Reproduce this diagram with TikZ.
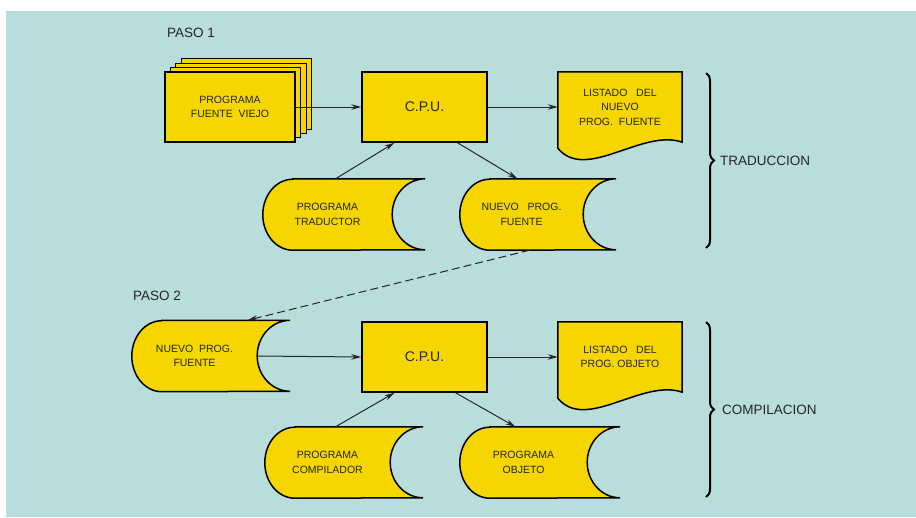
\documentclass[tikz,border=0pt]{standalone}
\usepackage{fontspec}
\setmainfont{Liberation Sans}
\usepackage{tikz}
\usetikzlibrary{arrows.meta, positioning, backgrounds, decorations.pathreplacing, calc}

\definecolor{fondo}{HTML}{B8DDDB}
\definecolor{amarillo}{HTML}{F5D600}
\definecolor{tinta}{HTML}{262626}

% outline of a storage (disc) symbol behind node #1
\newcommand{\disco}[1]{%
    \draw[shape_line] ([xshift=30pt]#1.north west) -- ([xshift=33pt]#1.north east)
        arc[start angle=90, end angle=270, x radius=33pt, y radius=35.5pt]
        -- ([xshift=30pt]#1.south west)
        arc[start angle=270, end angle=90, x radius=30pt, y radius=35.5pt] -- cycle;}
% outline of a printed listing behind node #1
\newcommand{\listado}[1]{%
    \draw[shape_line] (#1.north west) -- (#1.north east) -- (#1.south east)
        .. controls +(-40pt,14pt) and +(28pt,-34pt) .. ([yshift=-6pt]#1.south west) -- cycle;}

\begin{document}
\begin{tikzpicture}[x=1pt, y=-1pt,
            box_text/.style={align=center, text=tinta, font=\fontsize{10.5}{14.5}\selectfont},
            cpu_box/.style={rectangle, draw=black, line width=1.5pt, fill=amarillo,
            minimum width=125pt, minimum height=70pt, text=tinta, font=\fontsize{14}{16}\selectfont},
            store_box/.style={box_text, minimum height=71pt, inner sep=0pt},
            doc_box/.style={box_text, minimum width=124pt, minimum height=70pt, inner sep=0pt},
            shape_line/.style={draw=black, line width=1.5pt, fill=amarillo},
            flow/.style={-{Stealth[length=10pt, width=5.5pt]}, line width=1pt, tinta},
            flow_dash/.style={flow, dashed, dash pattern=on 8pt off 4pt},
            big_label/.style={text=tinta, font=\fontsize{13.5}{15}\selectfont, inner sep=0pt},
            llave/.style={decorate, decoration={brace, amplitude=8pt}, line width=2pt, black}
        ]

            % background panel
            \useasboundingbox (0,0) rectangle (916,517);
            \begin{scope}[on background layer]
                \fill[fondo] (6,11) rectangle (916,517);
            \end{scope}

            % Paso 1
            \node[big_label, anchor=west] (paso1) at (167,33) {PASO 1};
            \node[box_text, minimum width=130pt, minimum height=70pt] (viejo) at (230,107)
                {PROGRAMA\\FUENTE\ \ VIEJO};
            \node[cpu_box] (cpu1) at (424.5,107) {C.P.U.};
            \node[doc_box] (lista1) at (620,107) {LISTADO\ \ \ DEL\\NUEVO\\PROG.\ \ FUENTE};
            \node[store_box, minimum width=129pt] (trad) at (327.5,214.5) {PROGRAMA\\TRADUCTOR};
            \node[store_box, minimum width=123pt] (nuevo1) at (521.5,214.5) {NUEVO\ \ \ PROG.\\FUENTE};

            % Paso 2
            \node[big_label, anchor=west] (paso2) at (133,296) {PASO 2};
            \node[store_box, minimum width=125pt] (nuevo2) at (194.5,356) {NUEVO\ \ PROG.\\FUENTE};
            \node[cpu_box] (cpu2) at (424.5,357) {C.P.U.};
            \node[doc_box] (lista2) at (620,357) {LISTADO\ \ \ DEL\\PROG.\ OBJETO};
            \node[store_box, minimum width=125pt] (comp) at (327.5,462.5) {PROGRAMA\\COMPILADOR};
            \node[store_box, minimum width=127pt] (objeto) at (523.5,462.5) {PROGRAMA\\OBJETO};

            % yellow symbols
            \begin{scope}[on background layer]
                \foreach \k in {3,2,1} {
                    \draw[shape_line, line width=1pt] ([shift={({\k*5.5pt},{\k*4.3pt})}]viejo.south west)
                        rectangle ([shift={({\k*5.5pt},{\k*4.3pt})}]viejo.north east);
                }
                \draw[shape_line] (viejo.south west) rectangle (viejo.north east);
                \listado{lista1}
                \listado{lista2}
                \disco{trad}
                \disco{nuevo1}
                \disco{nuevo2}
                \disco{comp}
                \disco{objeto}
            \end{scope}

            % flow arrows
            \draw[flow] (viejo.east) -- (cpu1.west);
            \draw[flow] (cpu1.east) -- (lista1.west);
            \draw[flow] ([xshift=8pt]trad.north) -- ([xshift=-30pt]cpu1.south);
            \draw[flow] ([xshift=33pt]cpu1.south) -- ([xshift=-4pt]nuevo1.north);
            \draw[flow_dash] ([xshift=8pt]nuevo1.south) -- ([xshift=53pt]nuevo2.north);
            \draw[flow] (nuevo2.east) -- (cpu2.west);
            \draw[flow] (cpu2.east) -- (lista2.west);
            \draw[flow] ([xshift=8pt]comp.north) -- ([xshift=-30pt]cpu2.south);
            \draw[flow] ([xshift=31pt]cpu2.south) -- ([xshift=-8pt]objeto.north);

            % braces
            \coordinate (b1_top) at (706,73);
            \coordinate (b1_bot) at (706,248);
            \coordinate (b2_top) at (706,322);
            \coordinate (b2_bot) at (706,497);
            \draw[llave] (b1_top) -- (b1_bot);
            \draw[llave] (b2_top) -- (b2_bot);
            \node[big_label, anchor=west] (traduccion) at (720,160.5) {TRADUCCION};
            \node[big_label, anchor=west] (compilacion) at (722,409.5) {COMPILACION};

        \end{tikzpicture}
\end{document}
